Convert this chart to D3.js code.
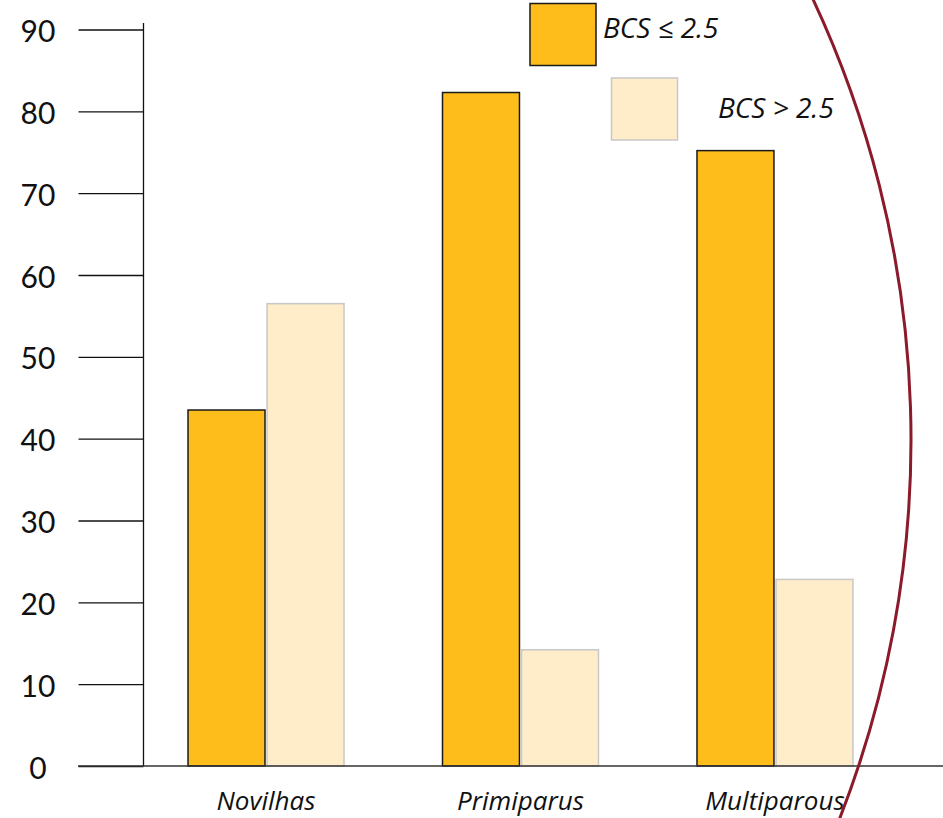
<!DOCTYPE html>
<html>
<head>
<meta charset="utf-8">
<script src="https://cdn.jsdelivr.net/npm/d3@7/dist/d3.min.js"></script>
<style>
  html, body { margin: 0; padding: 0; background: #fff; }
  svg { display: block; font-family: Lato, "Noto Sans", sans-serif; }
</style>
</head>
<body>
<svg id="chart" width="943" height="818"></svg>
<script>
// ---- data ----
const categories = ["Novilhas", "Primiparus", "Multiparous"];
const seriesNames = ["BCS ≤ 2.5", "BCS > 2.5"];
const bcsLow = [43.5, 82.3, 75.2];
const bcsHigh = [56.5, 14.2, 22.8];
const yTickValues = [0, 10, 20, 30, 40, 50, 60, 70, 80, 90];

const colors = { "BCS ≤ 2.5": "#FEBD1B", "BCS > 2.5": "#FEEDC8" };
const strokes = { "BCS ≤ 2.5": "#1a1a1a", "BCS > 2.5": "#c8c8c8" };
const labelFont = "'Open Sans', 'Noto Sans', sans-serif";

const svg = d3.select("#chart");
const axisX = 143.5, baseY = 766;

const y = d3.scaleLinear().domain([0, 90]).range([baseY, 29.5]);
const x0 = d3.scaleBand().domain(categories).range([144, 897])
  .paddingInner(0.387).paddingOuter(0.173);
const x1 = d3.scaleBand().domain(seriesNames).range([0, x0.bandwidth()]).paddingInner(0.026);

const rows = categories.map((c, i) => ({ cat: c, vals: [
  { s: seriesNames[0], v: bcsLow[i] },
  { s: seriesNames[1], v: bcsHigh[i] }
]}));

// bars
const g = svg.append("g");
g.selectAll("g.grp").data(rows).join("g")
  .attr("class", "grp")
  .attr("transform", d => `translate(${x0(d.cat)},0)`)
  .selectAll("rect").data(d => d.vals).join("rect")
  .attr("x", d => x1(d.s))
  .attr("y", d => y(d.v))
  .attr("width", x1.bandwidth())
  .attr("height", d => y(0) - y(d.v))
  .attr("fill", d => colors[d.s])
  .attr("stroke", d => strokes[d.s])
  .attr("stroke-width", 1.5);

// y axis
const yAxis = svg.append("g").attr("transform", `translate(${axisX},0)`)
  .call(d3.axisLeft(y).tickValues(yTickValues).tickSize(65).tickSizeOuter(0));
yAxis.select(".domain").remove();
yAxis.selectAll(".tick line").attr("stroke", "#111").attr("stroke-width", 1.3);
yAxis.selectAll(".tick text")
  .attr("x", 38 - axisX).attr("text-anchor", "middle").attr("dy", "0.4em")
  .attr("fill", "#111").style("font-size", "30px")
  .style("font-family", "Lato, 'Noto Sans', sans-serif");
svg.append("line").attr("x1", axisX).attr("x2", axisX)
  .attr("y1", 23).attr("y2", baseY).attr("stroke", "#111").attr("stroke-width", 1.3);

// baseline
svg.append("line").attr("x1", 78).attr("x2", 943)
  .attr("y1", baseY).attr("y2", baseY).attr("stroke", "#333").attr("stroke-width", 1.5);

// x axis labels
const xAxis = svg.append("g").attr("transform", `translate(0,${baseY})`)
  .call(d3.axisBottom(x0).tickSize(0).tickPadding(0));
xAxis.select(".domain").remove();
xAxis.selectAll(".tick text")
  .attr("y", 44)
  .attr("dy", 0)
  .attr("fill", "#111")
  .style("font-size", "26px").style("font-style", "italic")
  .style("font-family", labelFont);

// legend
const legendPos = [
  { rx: 530, ry: 3.5, tx: 603, ty: 38 },
  { rx: 611.5, ry: 78, tx: 718, ty: 118 }
];
const leg = svg.append("g");
seriesNames.forEach((s, i) => {
  const p = legendPos[i];
  leg.append("rect").attr("x", p.rx).attr("y", p.ry).attr("width", 66).attr("height", 62)
    .attr("fill", colors[s]).attr("stroke", strokes[s]).attr("stroke-width", 1.5);
  leg.append("text").attr("x", p.tx).attr("y", p.ty).text(s)
    .attr("fill", "#111").style("font-size", "28px").style("font-style", "italic")
    .style("font-family", labelFont);
});

// red arc annotation
const arcPath = d3.path();
const cx = -129, cy = 440, r = 1040;
arcPath.arc(cx, cy, r, -Math.asin(460 / r), Math.asin(400 / r));
svg.append("path").attr("d", arcPath.toString())
  .attr("fill", "none").attr("stroke", "#8B1A2B").attr("stroke-width", 3);
</script>
</body>
</html>
